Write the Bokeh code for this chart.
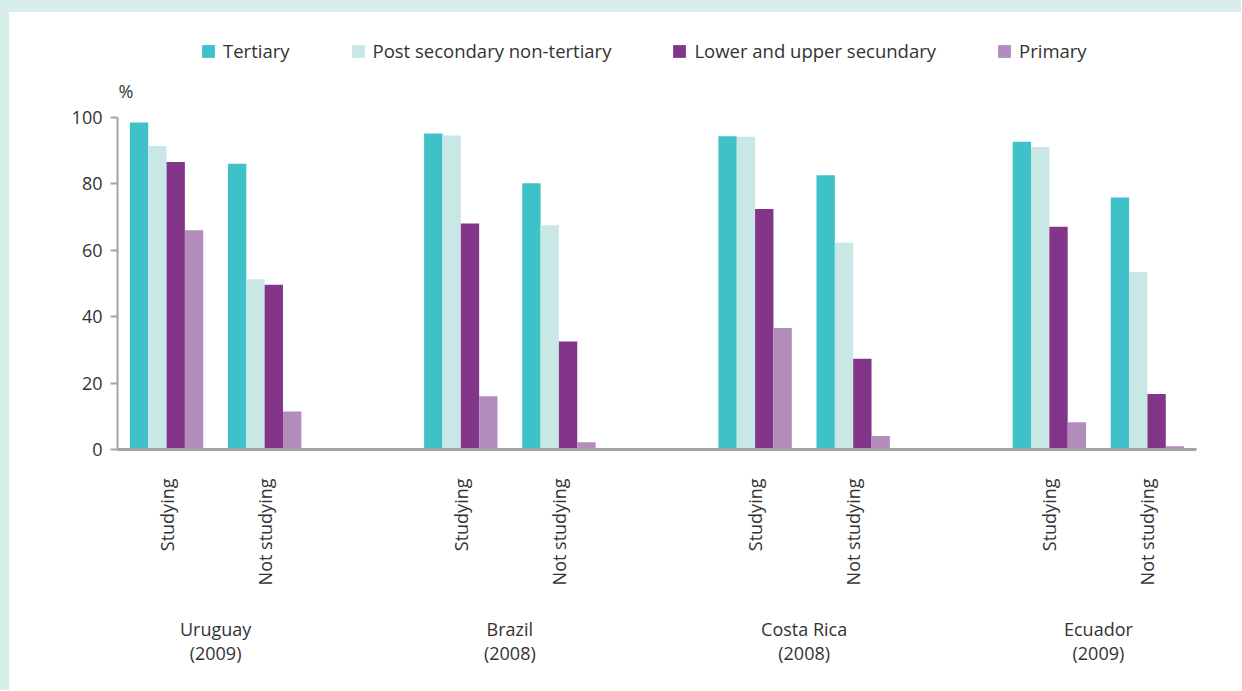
import math
from bokeh.plotting import figure
from bokeh.models import ColumnDataSource, FactorRange, Range1d, Legend, LegendItem, Label, Div
from bokeh.layouts import column, row
from bokeh.transform import dodge
from bokeh.embed import file_html
from bokeh.resources import INLINE

countries = ["Uruguay\n(2009)", "Brazil\n(2008)", "Costa Rica\n(2008)", "Ecuador\n(2009)"]
statuses = ["Studying", "Not studying"]
series = ["Tertiary", "Post secondary non-tertiary", "Lower and upper secundary", "Primary"]
colors = ["#3ec1c8", "#c9e7e5", "#833589", "#b28cbb"]

# values per (country, status), in order of factors
tertiary = [98.4, 86.0, 95.1, 80.1, 94.3, 82.5, 92.6, 75.8]
post_secondary = [91.3, 51.2, 94.5, 67.5, 94.1, 62.2, 91.0, 53.4]
lower_upper = [86.5, 49.6, 68.0, 32.5, 72.4, 27.3, 67.0, 16.7]
primary = [66.0, 11.4, 16.0, 2.2, 36.6, 4.1, 8.2, 1.0]
y_ticks = [0, 20, 40, 60, 80, 100]

factors = [(c, s) for c in countries for s in statuses]
src = ColumnDataSource(dict(x=factors, t=tertiary, p=post_secondary, l=lower_upper, pr=primary))

FONT = "Open Sans"
FS = "18px"
TXT = "#333333"
AX = "#a3a3a3"
BG = "#d7eeeb"

p = figure(
    width=1232, height=678,
    x_range=FactorRange(*factors, group_padding=1.0, factor_padding=0.0, range_padding=0.0),
    y_range=Range1d(0, 130),
    output_backend="svg", toolbar_location=None,
    min_border_left=108, min_border_right=45, min_border_top=5, min_border_bottom=241,
)
p.outline_line_color = None
p.grid.grid_line_color = None
p.background_fill_color = "white"
p.border_fill_color = "white"

bw = 0.187
offsets = [-1.5 * bw, -0.5 * bw, 0.5 * bw, 1.5 * bw]
cols = ["t", "p", "l", "pr"]
items = []
for name, col, off, color in zip(series, cols, offsets, colors):
    r = p.vbar(x=dodge("x", off, range=p.x_range), top=col, width=bw, source=src,
               fill_color=color, line_color=None)
    items.append(LegendItem(label=name, renderers=[r]))

legend = Legend(items=items, orientation="horizontal", location=(83, 386),
                glyph_width=16, glyph_height=16, label_standoff=7, spacing=60,
                padding=0, margin=0, border_line_alpha=0, background_fill_alpha=0,
                label_text_font=FONT, label_text_font_size="18.5px", label_text_color=TXT)
p.add_layout(legend, "center")

p.add_layout(Label(x=0, y=100, x_offset=1, y_offset=14, text="%", text_align="left",
                   text_font=FONT, text_font_size=FS, text_color=TXT))

# y axis
p.yaxis.ticker = y_ticks
p.yaxis.bounds = (0, 100)
p.yaxis.axis_line_color = AX
p.yaxis.axis_line_width = 2
p.yaxis.major_tick_line_color = AX
p.yaxis.major_tick_line_width = 2
p.yaxis.major_tick_in = 0
p.yaxis.major_tick_out = 7
p.yaxis.minor_tick_line_color = None
p.yaxis.major_label_standoff = 8
p.yaxis.major_label_text_font = FONT
p.yaxis.major_label_text_font_size = FS
p.yaxis.major_label_text_color = TXT

# x axis
xa = p.xaxis[0]
xa.axis_line_color = AX
xa.axis_line_width = 3
xa.major_tick_line_color = None
xa.major_tick_in = 0
xa.major_tick_out = 0
xa.minor_tick_line_color = None
xa.major_label_orientation = math.pi / 2
xa.major_label_standoff = 29
xa.major_label_text_font = FONT
xa.major_label_text_font_size = FS
xa.major_label_text_color = TXT
xa.group_text_font = FONT
xa.group_text_font_size = FS
xa.group_text_color = TXT
xa.group_text_font_style = "normal"
xa.group_text_line_height = 1.0
xa.separator_line_alpha = 0

top_band = Div(text="", width=1241, height=12, margin=0, styles={"background-color": BG})
left_band = Div(text="", width=9, height=678, margin=0, styles={"background-color": BG})
layout = column(top_band, row(left_band, p, spacing=0, margin=0), spacing=0, margin=0)

open("out.html", "w").write(file_html(layout, INLINE))
